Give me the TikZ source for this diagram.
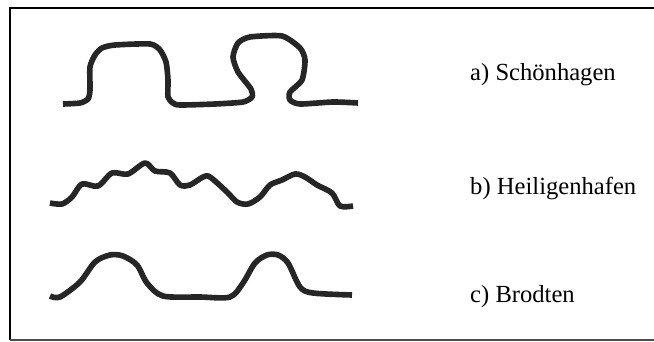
\documentclass[tikz,border=0pt]{standalone}
\usepackage{fontspec}
\setmainfont{Liberation Serif}
\usetikzlibrary{positioning}

\begin{document}
\begin{tikzpicture}[x=0.03cm, y=-0.03cm,
    profile/.style={line width=4.8pt, line join=round, black!85},
    sitename/.style={anchor=west, inner sep=0pt, font=\fontsize{21}{25}\selectfont}]
    \useasboundingbox (0,0) rectangle (654,342);

    % Frame
    \draw[line width=1.5pt] (654,8) -- (10,8) -- (10,340);
    \draw[line width=1.5pt, black!70] (10,340) -- (654,340);

    % Profiles
    \draw[profile] plot[smooth, tension=0.4] coordinates {(63,104) (80,103) (88,99) (90,90) (90,67) (95,55) (102,48) (115,45) (150,44) (160,50) (166,62) (168,80) (168,97) (173,103) (180,105) (215,104) (243,102) (252,97) (251,89) (238,72) (233,57) (238,43) (250,37) (282,36) (300,48) (305,60) (302,80) (290,92) (290,100) (300,104) (333,102) (358,103)};
    \draw[profile] plot[smooth, tension=0.5] coordinates {(50,203) (62,204) (72,197) (82,184) (98,186) (112,173) (128,174) (145,163) (155,171) (170,173) (180,185) (190,185) (203,177) (210,177) (227,192) (237,202) (248,204) (260,197) (270,185) (282,180) (295,174) (305,177) (317,185) (332,193) (340,206) (353,206)};
    \draw[profile] plot[smooth, tension=0.5] coordinates {(50,296) (60,297) (80,282) (95,262) (110,255) (123,256) (137,265) (147,283) (163,296) (200,297) (230,297) (243,283) (255,263) (267,255) (278,255) (288,263) (300,287) (313,293) (352,295)};

    % Labels
    \node[sitename] (schoen) at (470,75) {a) Schönhagen};
    \node[sitename] (heili) at (470,188) {b) Heiligenhafen};
    \node[sitename] (brodt) at (470,297) {c) Brodten};
\end{tikzpicture}
\end{document}
